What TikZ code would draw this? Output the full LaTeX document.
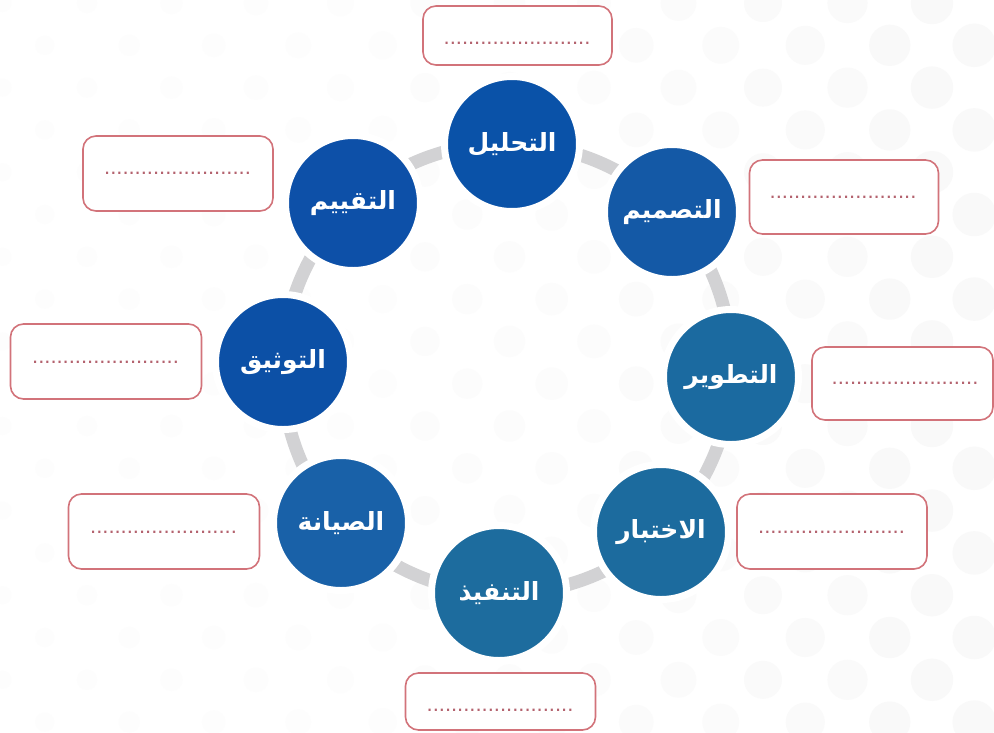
\documentclass[tikz,border=0pt]{standalone}
\usepackage{fontspec}
\newfontfamily\arabicfont[Script=Arabic]{DejaVu Sans}
\newfontfamily\dotfont{Liberation Sans}
\TeXXeTstate=1
\definecolor{ringgray}{HTML}{D2D2D4}
\definecolor{boxred}{HTML}{D2737A}
\definecolor{dotred}{HTML}{B4626E}
\definecolor{cA}{HTML}{0A52A8}
\definecolor{cB}{HTML}{1459A6}
\definecolor{cC}{HTML}{1B6AA0}
\definecolor{cD}{HTML}{1C6B9E}
\definecolor{cE}{HTML}{1D6C9E}
\definecolor{cF}{HTML}{1961A8}
\definecolor{cG}{HTML}{0C50A6}
\definecolor{cH}{HTML}{0D50A8}
\tikzset{
  stage/.style={circle, minimum size=135pt, inner sep=0pt, draw=white, line width=7pt,
    text=white, font=\arabicfont\bfseries\fontsize{25}{28}\selectfont},
  ringseg/.style={draw=ringgray, line width=13pt},
  notebox/.style={draw=boxred, line width=1.6pt, fill=white, rounded corners=13pt, inner sep=0pt},
  dotline/.style={inner sep=0pt, text=dotred, font=\dotfont\fontsize{22}{24}\selectfont}
}
\begin{document}
\begin{tikzpicture}[x=1pt,y=-1pt]
\useasboundingbox (0,0) rectangle (994,732);
\fill[white] (0,0) rectangle (994,732);
% faint background dots
\foreach \j in {0,...,17}{
  \foreach \k in {-1,...,12}{
    \pgfmathsetmacro{\xx}{87+84.5*\k - 42.25*mod(\j,2)}
    \pgfmathsetmacro{\yy}{3+42.3*\j}
    \pgfmathsetmacro{\ff}{max(0,min(1,\xx/994))}
    \pgfmathsetmacro{\rr}{9+13*\ff}
    \pgfmathsetmacro{\pp}{0.6+2.0*\ff*\ff}
    \fill[black!\pp] (\xx,\yy) circle (\rr);
  }
}
% ring segments (behind circles)
\coordinate (p1) at (512,144);
\coordinate (p2) at (672,212);
\coordinate (p3) at (731,377);
\coordinate (p4) at (661,532);
\coordinate (p5) at (499,593);
\coordinate (p6) at (341,523);
\coordinate (p7) at (283,362);
\coordinate (p8) at (353,203);
\draw[ringseg] (p1) to[bend left=22.5, looseness=0.89] (p2);
\draw[ringseg] (p2) to[bend left=22.5, looseness=0.89] (p3);
\draw[ringseg] (p3) to[bend left=22.5, looseness=0.89] (p4);
\draw[ringseg] (p4) to[bend left=22.5, looseness=0.89] (p5);
\draw[ringseg] (p5) to[bend left=22.5, looseness=0.89] (p6);
\draw[ringseg] (p6) to[bend left=22.5, looseness=0.89] (p7);
\draw[ringseg] (p7) to[bend left=22.5, looseness=0.89] (p8);
\draw[ringseg] (p8) to[bend left=22.5, looseness=0.89] (p1);
% stages
\node[stage, fill=cA] (c1) at (p1) {\beginR التحليل\endR};
\node[stage, fill=cB] (c2) at (p2) {\beginR التصميم\endR};
\node[stage, fill=cC] (c3) at (p3) {\beginR التطوير\endR};
\node[stage, fill=cD] (c4) at (p4) {\beginR الاختبار\endR};
\node[stage, fill=cE] (c5) at (p5) {\beginR التنفيذ\endR};
\node[stage, fill=cF] (c6) at (p6) {\beginR الصيانة\endR};
\node[stage, fill=cG] (c7) at (p7) {\beginR التوثيق\endR};
\node[stage, fill=cH] (c8) at (p8) {\beginR التقييم\endR};
% note boxes
\node[notebox, minimum width=189pt, minimum height=59pt] (b1) at (517.5,35.5) {};
\node[notebox, minimum width=189pt, minimum height=74pt] (b2) at (844,197) {};
\node[notebox, minimum width=181pt, minimum height=73pt] (b3) at (902.5,383.5) {};
\node[notebox, minimum width=190pt, minimum height=75pt] (b4) at (832,531.5) {};
\node[notebox, minimum width=190pt, minimum height=57pt] (b5) at (500.5,701.5) {};
\node[notebox, minimum width=190pt, minimum height=75pt] (b6) at (178,173.5) {};
\node[notebox, minimum width=191pt, minimum height=75pt] (b7) at (106,361.5) {};
\node[notebox, minimum width=191pt, minimum height=75pt] (b8) at (164,531.5) {};
% dotted placeholders
\node[dotline] (d1) at (517,43) {........................};
\node[dotline] (d2) at (843,197) {........................};
\node[dotline] (d3) at (905,383) {........................};
\node[dotline] (d4) at (831.5,532) {........................};
\node[dotline] (d5) at (500,710) {........................};
\node[dotline] (d6) at (177.5,173) {........................};
\node[dotline] (d7) at (105.5,362) {........................};
\node[dotline] (d8) at (163.5,532) {........................};
\end{tikzpicture}
\end{document}
